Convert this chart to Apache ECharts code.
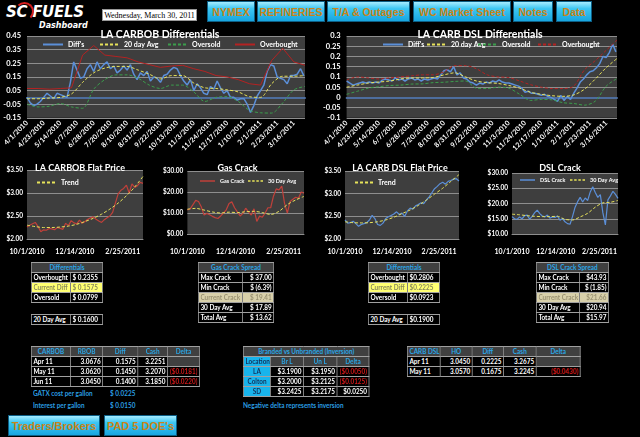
<!DOCTYPE html>
<html>
<head>
<meta charset="utf-8">
<title>SC Fuels Dashboard</title>
<script src="https://cdn.jsdelivr.net/npm/echarts@6/dist/echarts.min.js"></script>
<style>
  html, body { margin:0; padding:0; background:#000; }
  body { width:640px; height:437px; position:relative; overflow:hidden; font-family:Lato, 'Liberation Sans', sans-serif; }
  .abs { position:absolute; }
  .btn { position:absolute; box-sizing:border-box; text-align:center; white-space:nowrap; font:bold 10.5px 'Liberation Sans', Arial, sans-serif; color:#c98418;
         background:linear-gradient(#a6ecff 0%, #3cc6f2 35%, #18a6e0 100%); border:1px solid #0d5f86; }
  .top { top:1px; height:21px; line-height:20px; }
  .low { top:415px; height:21px; line-height:20px; font-size:11px; }
  .chart { position:absolute; }
  /* tables are laid out wide and squeezed, to get a narrow Calibri-like look */
  .t { position:absolute; border-collapse:collapse; table-layout:fixed; font:bold 8px Lato, sans-serif; color:#fff;
       transform:scaleX(0.8); transform-origin:0 0; }
  .t td { border:1px solid #a0a0a0; height:9px; line-height:9px; padding:0 2px; white-space:nowrap; overflow:hidden; background:#000; }
  .t td.h { background:#404040; color:#2aa6e6; text-align:center; }
  .t td.r { text-align:right; }
  .t td.neg { color:#d01818; text-align:right; }
  .t td.yel { background:#ffff72; color:#8a8a5a; }
  .t td.tan { background:#d8d0aa; color:#9a9272; }
  .t td.cy { background:#18b4ec; color:#12305a; text-align:center; }
  .t td.g { background:#404040; }
  .note { position:absolute; font:bold 8px Lato, sans-serif; color:#2a9ee0; white-space:nowrap; transform:scaleX(0.8); transform-origin:0 0; }
</style>
</head>
<body>

<div class="abs" style="left:6px;top:3px;font:italic bold 15px 'DejaVu Sans',sans-serif;color:#fff;letter-spacing:-0.3px">SC FUELS</div>
<div class="abs" style="left:15px;top:2px;width:15px;height:15px;border:2px solid #d81e1e;border-left-color:transparent;border-bottom-color:transparent;border-radius:50%"></div>
<div class="abs" style="left:39px;top:21px;font:italic bold 8px 'DejaVu Sans',sans-serif;color:#fff">Dashboard</div>
<div class="abs" style="left:102px;top:9px;width:95px;height:12px;background:#fff;border:1px solid #999;box-sizing:border-box;font:8px 'Liberation Serif',serif;color:#000;text-align:center;line-height:11px">Wednesday, March 30, 2011</div>

<div class="btn top" style="left:207px;width:48px">NYMEX</div>
<div class="btn top" style="left:257px;width:68px">REFINERIES</div>
<div class="btn top" style="left:327px;width:83px">T/A &amp; Outages</div>
<div class="btn top" style="left:413px;width:98px">WC Market Sheet</div>
<div class="btn top" style="left:513px;width:40px">Notes</div>
<div class="btn top" style="left:556px;width:36px">Data</div>

<div id="c1" class="chart" style="left:0;top:24px;width:320px;height:130px"></div>
<div id="c2" class="chart" style="left:320px;top:24px;width:320px;height:130px"></div>
<div id="c3" class="chart" style="left:0;top:155px;width:160px;height:100px"></div>
<div id="c4" class="chart" style="left:160px;top:155px;width:155px;height:100px"></div>
<div id="c5" class="chart" style="left:320px;top:155px;width:160px;height:100px"></div>
<div id="c6" class="chart" style="left:480px;top:155px;width:160px;height:100px"></div>

<table class="t" style="left:31px;top:262px;width:89px">
  <col style="width:49px"><col style="width:40px">
  <tr><td class="h" colspan="2">Differentials</td></tr>
  <tr><td>Overbought</td><td>$ 0.2355</td></tr>
  <tr><td class="yel">Current Diff</td><td class="yel">$ 0.1575</td></tr>
  <tr><td>Oversold</td><td>$ 0.0799</td></tr>
</table>
<table class="t" style="left:31px;top:314px;width:89px">
  <col style="width:49px"><col style="width:40px">
  <tr><td>20 Day Avg</td><td>$ 0.1600</td></tr>
</table>

<table class="t" style="left:198px;top:262px;width:94px">
  <col style="width:55px"><col style="width:39px">
  <tr><td class="h" colspan="2">Gas Crack Spread</td></tr>
  <tr><td>Max Crack</td><td class="r">$ 37.00</td></tr>
  <tr><td>Min Crack</td><td class="r">$ (6.39)</td></tr>
  <tr><td class="tan">Current Crack</td><td class="tan r">$ 19.41</td></tr>
  <tr><td>30 Day Avg</td><td class="r">$ 17.89</td></tr>
  <tr><td>Total Avg</td><td class="r">$ 13.62</td></tr>
</table>

<table class="t" style="left:368px;top:262px;width:89px">
  <col style="width:49px"><col style="width:40px">
  <tr><td class="h" colspan="2">Differentials</td></tr>
  <tr><td>Overbought</td><td>$0.2806</td></tr>
  <tr><td class="yel">Current Diff</td><td class="yel">$0.2225</td></tr>
  <tr><td>Oversold</td><td>$0.0923</td></tr>
</table>
<table class="t" style="left:368px;top:314px;width:89px">
  <col style="width:49px"><col style="width:40px">
  <tr><td>20 Day Avg</td><td>$0.1900</td></tr>
</table>

<table class="t" style="left:536px;top:262px;width:90px">
  <col style="width:54px"><col style="width:36px">
  <tr><td class="h" colspan="2">DSL Crack Spread</td></tr>
  <tr><td>Max Crack</td><td class="r">$43.93</td></tr>
  <tr><td>Min Crack</td><td class="r">$ (1.85)</td></tr>
  <tr><td class="tan">Current Crack</td><td class="tan r">$21.66</td></tr>
  <tr><td>30 Day Avg</td><td class="r">$20.94</td></tr>
  <tr><td>Total Avg</td><td class="r">$15.97</td></tr>
</table>

<table class="t" style="left:31px;top:346px;width:210px">
  <col style="width:49px"><col style="width:40px"><col style="width:44px"><col style="width:37px"><col style="width:40px">
  <tr><td class="h">CARBOB</td><td class="h">RBOB</td><td class="h">Diff</td><td class="h">Cash</td><td class="h">Delta</td></tr>
  <tr><td>Apr 11</td><td class="r">3.0676</td><td class="r">0.1575</td><td class="r">3.2251</td><td class="g"></td></tr>
  <tr><td>May 11</td><td class="r">3.0620</td><td class="r">0.1450</td><td class="r">3.2070</td><td class="neg">($0.0181)</td></tr>
  <tr><td>Jun 11</td><td class="r">3.0450</td><td class="r">0.1400</td><td class="r">3.1850</td><td class="neg">($0.0220)</td></tr>
</table>
<div class="note" style="left:33px;top:388px">GATX cost per gallon</div>
<div class="note" style="left:110px;top:388px">$ 0.0225</div>
<div class="note" style="left:33px;top:400px">Interest per gallon</div>
<div class="note" style="left:110px;top:400px">$ 0.0150</div>

<table class="t" style="left:243px;top:346px;width:157px">
  <col style="width:34px"><col style="width:41px"><col style="width:42px"><col style="width:40px">
  <tr><td class="h" colspan="4">Branded vs Unbranded (Inversion)</td></tr>
  <tr><td class="cy">Location</td><td class="h">Br L</td><td class="h">Un L</td><td class="h">Delta</td></tr>
  <tr><td class="cy">LA</td><td class="r">$3.1900</td><td class="r">$3.1950</td><td class="neg">($0.0050)</td></tr>
  <tr><td class="cy">Colton</td><td class="r">$3.2000</td><td class="r">$3.2125</td><td class="neg">($0.0125)</td></tr>
  <tr><td class="cy">SD</td><td class="r">$3.2425</td><td class="r">$3.2175</td><td class="r">$0.0250</td></tr>
</table>
<div class="note" style="left:243px;top:400px">Negative delta represents inversion</div>

<table class="t" style="left:407px;top:346px;width:216px">
  <col style="width:41px"><col style="width:40px"><col style="width:39px"><col style="width:41px"><col style="width:55px">
  <tr><td class="h">CARB DSL</td><td class="h">HO</td><td class="h">Diff</td><td class="h">Cash</td><td class="h">Delta</td></tr>
  <tr><td>Apr 11</td><td class="r">3.0450</td><td class="r">0.2225</td><td class="r">3.2675</td><td class="g"></td></tr>
  <tr><td>May 11</td><td class="r">3.0570</td><td class="r">0.1675</td><td class="r">3.2245</td><td class="neg">($0.0430)</td></tr>
</table>

<div class="btn low" style="left:8px;width:92px">Traders/Brokers</div>
<div class="btn low" style="left:104px;width:73px">PAD 5 DOE's</div>

<script>
var FONT = 'Lato, "Liberation Sans", sans-serif';

// differential charts: one x step = one trading day from 4/1/2010
var diffTicks = ['4/1/2010', '4/23/2010', '5/14/2010', '6/7/2010', '6/28/2010', '7/20/2010', '8/10/2010',
  '8/31/2010', '9/22/2010', '10/13/2010', '11/3/2010', '11/24/2010', '12/17/2010', '1/10/2011',
  '2/1/2011', '2/23/2011', '3/16/2011'];

// LA CARBOB, raw diffs every 3rd day, bands every 10th day
var carbobDiff = [0.00, -0.04, -0.06, -0.05, -0.03, 0.00, 0.03, 0.01, -0.01, 0.03, 0.02, 0.01, 0.00,
  0.11, 0.26, 0.20, 0.14, 0.15, 0.21, 0.24, 0.19, 0.26, 0.21, 0.24, 0.26, 0.21, 0.23, 0.18, 0.20,
  0.23, 0.20, 0.24, 0.17, 0.13, 0.18, 0.16, 0.19, 0.12, 0.15, 0.14, 0.11, 0.16, 0.17, 0.20, 0.22,
  0.21, 0.16, 0.12, 0.09, 0.13, 0.05, 0.10, 0.07, 0.03, 0.02, 0.08, 0.06, 0.12, 0.07, 0.03, 0.05,
  0.00, 0.00, -0.02, -0.01, -0.01, -0.05, -0.11, -0.06, 0.01, 0.05, 0.09, 0.19, 0.24, 0.23, 0.15,
  0.14, 0.13, 0.10, 0.16, 0.16, 0.17, 0.21, 0.1575];
var carbobAvg = [-0.01, -0.01, -0.005, 0.0, 0.025, 0.11, 0.18, 0.215, 0.227, 0.227, 0.2, 0.17, 0.135,
  0.16, 0.16, 0.105, 0.07, 0.065, 0.055, 0.04, 0.005, 0.0, 0.10, 0.155, 0.155, 0.16];
var carbobOversold = [-0.05, -0.07, -0.065, -0.045, -0.07, -0.08, 0.06, 0.13, 0.165, 0.165, 0.14, 0.09,
  0.065, 0.09, 0.09, 0.04, -0.03, 0.0, 0.005, -0.03, -0.095, -0.113, -0.115, -0.04, 0.055, 0.08];
var carbobOverbought = [0.065, 0.065, 0.06, 0.065, 0.07, 0.31, 0.38, 0.31, 0.30, 0.29, 0.26, 0.24, 0.22,
  0.23, 0.235, 0.21, 0.19, 0.16, 0.15, 0.13, 0.10, 0.09, 0.27, 0.36, 0.26, 0.2355];

// LA CARB DSL
var dslDiff = [0.08, 0.07, 0.06, 0.065, 0.07, 0.075, 0.07, 0.075, 0.07, 0.075, 0.07, 0.085, 0.09,
  0.085, 0.08, 0.095, 0.085, 0.09, 0.08, 0.09, 0.095, 0.085, 0.09, 0.08, 0.09, 0.085, 0.09, 0.095,
  0.09, 0.11, 0.13, 0.135, 0.125, 0.15, 0.11, 0.12, 0.095, 0.09, 0.075, 0.07, 0.06, 0.07, 0.065,
  0.075, 0.07, 0.08, 0.075, 0.085, 0.075, 0.07, 0.07, 0.065, 0.06, 0.055, 0.045, 0.025, 0.03, 0.02,
  0.02, 0.015, 0.01, 0.015, 0.005, 0.0, -0.01, -0.02, 0.01, -0.015, 0.005, -0.01, 0.02, 0.045, 0.075,
  0.09, 0.11, 0.125, 0.13, 0.145, 0.165, 0.2, 0.195, 0.22, 0.26, 0.2225];
var dslAvg = [0.05, 0.06, 0.07, 0.075, 0.08, 0.09, 0.095, 0.095, 0.097, 0.11, 0.12, 0.10, 0.08, 0.072,
  0.068, 0.058, 0.045, 0.025, 0.015, 0.008, 0.005, 0.012, 0.04, 0.09, 0.145, 0.19];
var dslOversold = [0.015, 0.03, 0.045, 0.052, 0.058, 0.06, 0.065, 0.066, 0.072, 0.074, 0.078, 0.08,
  0.045, 0.043, 0.05, 0.045, 0.015, -0.015, -0.01, -0.012, -0.026, -0.03, -0.038, -0.018, 0.055, 0.0923];
var dslOverbought = [0.085, 0.1, 0.095, 0.09, 0.095, 0.1, 0.105, 0.11, 0.11, 0.125, 0.155, 0.155, 0.14,
  0.11, 0.1, 0.097, 0.08, 0.062, 0.05, 0.043, 0.043, 0.055, 0.135, 0.18, 0.23, 0.2806];

// small charts: one x step = one trading day from 10/1/2010, raw every 3rd day, trend/avg every 9th
var flatTicks = ['10/1/2010', '12/14/2010', '2/25/2011'];
var carbobFlat = [2.26, 2.30, 2.33, 2.36, 2.27, 2.16, 2.20, 2.19, 2.23, 2.22, 2.20, 2.25, 2.23, 2.21,
  2.34, 2.29, 2.40, 2.35, 2.33, 2.41, 2.34, 2.38, 2.43, 2.46, 2.48, 2.43, 2.39, 2.36, 2.42, 2.46,
  2.50, 2.58, 2.78, 2.98, 3.06, 3.10, 3.17, 3.00, 3.20, 3.12, 3.16, 3.23, 3.21];
var carbobTrend = [2.30, 2.27, 2.25, 2.25, 2.26, 2.28, 2.32, 2.38, 2.45, 2.54, 2.65, 2.78, 2.94, 3.13, 3.36];
var gasCrack = [11.5, 12.0, 14.0, 16.0, 15.5, 13.0, 9.0, 9.8, 9.2, 8.4, 7.8, 7.4, 8.6, 10.0, 11.5,
  14.5, 15.3, 12.5, 10.5, 8.6, 9.8, 12.3, 10.5, 9.0, 12.0, 6.0, 8.5, 8.0, 10.0, 12.5, 12.5, 18.0,
  21.5, 21.0, 22.8, 14.6, 10.0, 15.5, 16.5, 17.5, 17.0, 20.0, 19.4];
var gasCrackAvg = [11.8, 12.2, 11.4, 10.5, 10.0, 10.4, 10.2, 10.6, 10.8, 10.2, 9.3, 10.8, 14.0, 16.2, 17.9];
var dslFlat = [2.42, 2.35, 2.36, 2.39, 2.34, 2.28, 2.32, 2.34, 2.36, 2.42, 2.52, 2.45, 2.32, 2.30,
  2.35, 2.45, 2.49, 2.52, 2.55, 2.60, 2.54, 2.57, 2.50, 2.62, 2.68, 2.66, 2.73, 2.76, 2.80, 2.78,
  2.86, 2.93, 3.02, 3.11, 3.16, 3.22, 3.25, 3.21, 3.27, 3.29, 3.32, 3.33, 3.28];
var dslTrend = [2.38, 2.36, 2.355, 2.36, 2.38, 2.42, 2.48, 2.56, 2.64, 2.74, 2.86, 2.99, 3.12, 3.27, 3.42];
var dslCrack = [15.7, 15.0, 14.8, 15.6, 15.0, 16.0, 16.2, 14.9, 15.8, 17.0, 17.8, 16.7, 15.9, 15.6,
  16.2, 15.2, 15.6, 15.4, 15.9, 14.5, 15.1, 14.0, 13.4, 13.2, 15.8, 18.8, 20.6, 22.0, 20.5, 21.8,
  21.0, 23.8, 25.5, 23.6, 22.0, 22.9, 17.0, 13.0, 21.2, 22.5, 24.0, 23.0, 21.7];
var dslCrackAvg = [16.5, 16.3, 16.0, 15.8, 15.7, 15.7, 15.8, 14.8, 14.6, 15.6, 16.8, 18.8, 20.2, 20.4, 21.0];

var BLUE = '#5b8fd8', YELLOW = '#e6e25a', GREEN = '#3b9e4c', RED = '#b42222', FLATRED = '#c0403a';
// legend swatches drawn as paths so dashed lines stay dashed and no marker shows
var ICON_SOLID = 'path://M0,0H20V2H0Z';
var ICON_DASH = 'path://M0,0H3V2H0Z M5,0H8V2H5Z M10,0H13V2H10Z M15,0H18V2H15Z';

function xy(vals, step) {
  return vals.map(function (v, i) { return [i * step, v]; });
}

function line(name, vals, step, color, width, dashed) {
  return {
    name: name, type: 'line', data: xy(vals, step), symbol: 'none', silent: true,
    smooth: dashed ? 0.3 : false,
    lineStyle: { color: color, width: width, type: dashed ? [3, 2] : 'solid' },
    itemStyle: { color: color }
  };
}

function legends(items, top, w, fs) {
  return items.map(function (it) {
    return {
      data: [{ name: it[0], icon: it[2] ? ICON_DASH : ICON_SOLID }], left: it[1], top: top,
      itemWidth: w, itemHeight: 2, itemGap: 0, padding: 0, selectedMode: false,
      textStyle: { color: '#fff', fontSize: fs, fontWeight: 'bold', fontFamily: FONT }
    };
  });
}

function diffOption(o) {
  return {
    animation: false,
    textStyle: { fontFamily: FONT },
    title: { text: o.title, left: 'center', top: 0, textStyle: { color: '#fff', fontSize: 10.5, fontWeight: 'bold', fontFamily: FONT } },
    legend: legends(o.legend, 17, 20, 7),
    grid: { left: o.gl, right: o.gr, top: 12, bottom: 31, show: true, backgroundColor: '#3e3e3e', borderWidth: 0 },
    xAxis: {
      type: 'value', min: 0, max: 250, interval: 15,
      axisLine: { lineStyle: { color: '#4d6d9d', width: 2 } }, axisTick: { show: false }, splitLine: { show: false },
      axisLabel: { rotate: 45, margin: 4, color: '#fff', fontSize: 7, fontWeight: 'bold',
        formatter: function (v) { return diffTicks[v / 15] || ''; } }
    },
    yAxis: {
      type: 'value', min: o.min, max: o.max, interval: o.step,
      axisLine: { show: false }, axisTick: { show: false },
      axisLabel: { color: '#fff', fontSize: 7.5, fontWeight: 'bold', margin: 6, formatter: o.fmt },
      splitLine: { lineStyle: { color: '#8e8e8e', width: 1 } }
    },
    series: [
      line("Diff's", o.diff, 3, BLUE, 1.5, false),
      line('20 day Avg', o.avg, 10, YELLOW, 1, true),
      line('Oversold', o.low, 10, GREEN, 1, true),
      line('Overbought', o.high, 10, RED, 1, o.highDashed)
    ]
  };
}

function smallOption(o) {
  return {
    animation: false,
    textStyle: { fontFamily: FONT },
    title: { text: o.title, left: 'center', top: 4, textStyle: { color: '#fff', fontSize: 9, fontWeight: 'bold', fontFamily: FONT } },
    legend: legends(o.legend, o.legendTop, o.iw, o.lfs),
    grid: { left: o.gl, right: o.gr, top: o.gt, bottom: o.gb, show: true, backgroundColor: '#3e3e3e', borderWidth: 0 },
    xAxis: {
      type: 'value', min: 0, max: 126, interval: 52,
      axisLine: { lineStyle: { color: '#8e8e8e' } }, axisTick: { show: false }, splitLine: { show: false },
      axisLabel: { margin: o.xm, color: '#fff', fontSize: 7, fontWeight: 'bold',
        formatter: function (v) { return flatTicks[v / 52] || ''; } }
    },
    yAxis: {
      type: 'value', min: o.min, max: o.max, interval: o.step,
      axisLine: { show: false }, axisTick: { show: false },
      axisLabel: { color: '#fff', fontSize: 6.5, fontWeight: 'bold', margin: 4,
        formatter: function (v) { return '$' + v.toFixed(2); } },
      splitLine: { lineStyle: { color: '#8e8e8e', width: 1 } }
    },
    series: o.series
  };
}

echarts.init(document.getElementById('c1')).setOption(diffOption({
  title: 'LA CARBOB Differentials', gl: 27, gr: 15, min: -0.15, max: 0.45, step: 0.1,
  fmt: function (v) { return v.toFixed(2); },
  legend: [["Diff's", 43, false], ['20 day Avg', 100, true], ['Oversold', 168, true], ['Overbought', 235, false]],
  diff: carbobDiff, avg: carbobAvg, low: carbobOversold, high: carbobOverbought, highDashed: false
}));

echarts.init(document.getElementById('c2')).setOption(diffOption({
  title: 'LA CARB DSL Differentials', gl: 26, gr: 23, min: -0.1, max: 0.3, step: 0.05,
  fmt: function (v) { return String(+v.toFixed(2)); },
  legend: [["Diff's", 63, false], ['20 day Avg', 107, true], ['Oversold', 158, true], ['Overbought', 218, true]],
  diff: dslDiff, avg: dslAvg, low: dslOversold, high: dslOverbought, highDashed: true
}));

echarts.init(document.getElementById('c3')).setOption(smallOption({
  title: 'LA CARBOB Flat Price', gl: 27, gr: 17, gt: 15, gb: 16, xm: 9, min: 2, max: 3.5, step: 0.5,
  legend: [['Trend', 37, true]], legendTop: 24, iw: 20, lfs: 7,
  series: [line('LA CARBOB', carbobFlat, 3, FLATRED, 1.2, false), line('Trend', carbobTrend, 9, YELLOW, 1, true)]
}));

echarts.init(document.getElementById('c4')).setOption(smallOption({
  title: 'Gas Crack', gl: 23, gr: 11, gt: 16, gb: 21, xm: 14, min: 0, max: 30, step: 10,
  legend: [['Gas Crack', 40, false], ['30 Day Avg', 88, true]], legendTop: 23, iw: 15, lfs: 5.5,
  series: [line('Gas Crack', gasCrack, 3, FLATRED, 1.2, false), line('30 Day Avg', gasCrackAvg, 9, YELLOW, 1, true)]
}));

echarts.init(document.getElementById('c5')).setOption(smallOption({
  title: 'LA CARB DSL Flat Price', gl: 25, gr: 21, gt: 16, gb: 16, xm: 9, min: 2, max: 3.5, step: 0.5,
  legend: [['Trend', 35, true]], legendTop: 24, iw: 18, lfs: 7,
  series: [line('LA CARB DSL', dslFlat, 3, BLUE, 1.2, false), line('Trend', dslTrend, 9, YELLOW, 1, true)]
}));

echarts.init(document.getElementById('c6')).setOption(smallOption({
  title: 'DSL Crack', gl: 32, gr: 22, gt: 18, gb: 21, xm: 14, min: 10, max: 30, step: 5,
  legend: [['DSL Crack', 40, false], ['30 Day Avg', 90, true]], legendTop: 22, iw: 15, lfs: 5.5,
  series: [line('DSL Crack', dslCrack, 3, BLUE, 1.2, false), line('30 Day Avg', dslCrackAvg, 9, YELLOW, 1, true)]
}));
</script>
</body>
</html>
